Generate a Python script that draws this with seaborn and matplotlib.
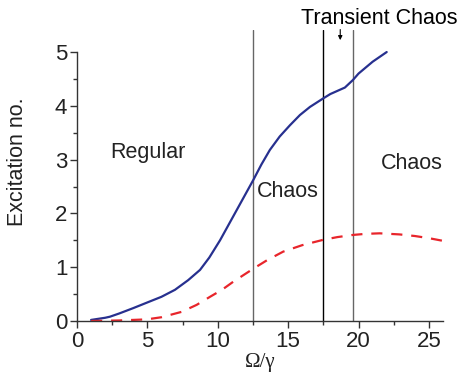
import numpy as np
import pandas as pd
import matplotlib
matplotlib.use("Agg")
import matplotlib.pyplot as plt
import seaborn as sns
from matplotlib.ticker import MultipleLocator

# Data
blue_x = [1, 2, 2.34, 3, 4, 4.95, 6, 6.96, 7.9, 8.74, 9.4, 10.16, 10.75, 11.34, 11.93, 12.52, 13.1, 13.7, 14.4, 15.13, 15.84, 16.55, 17.5, 18, 19.03, 19.6, 20, 21, 22]
blue_y = [0.02, 0.06, 0.08, 0.14, 0.24, 0.34, 0.45, 0.58, 0.76, 0.95, 1.18, 1.5, 1.78, 2.06, 2.34, 2.62, 2.91, 3.18, 3.43, 3.64, 3.83, 3.98, 4.14, 4.22, 4.34, 4.48, 4.6, 4.82, 5.0]
red_x = [1, 3, 4.95, 6, 7.43, 8.5, 9.45, 10.3, 11.1, 12.57, 13.5, 14.65, 16, 17.5, 18.5, 19.6, 20.5, 21.5, 22.9, 24, 25, 26]
red_y = [0.0, 0.01, 0.03, 0.07, 0.17, 0.3, 0.45, 0.58, 0.73, 0.98, 1.13, 1.29, 1.41, 1.51, 1.56, 1.6, 1.62, 1.63, 1.61, 1.58, 1.54, 1.49]
region_edges = [12.5, 17.5, 19.6]
edge_colors = ["#666666", "#000000", "#666666"]

sns.set_theme(style="ticks")
plt.rcParams['font.family'] = ['Liberation Sans', 'DejaVu Sans']

fig = plt.figure(figsize=(4.6, 3.77), dpi=100)
ax = fig.add_axes([77/460, 1-321/377, (443-77)/460, (321-30)/377])

sns.lineplot(x=blue_x, y=blue_y, ax=ax, color="#27308f", lw=1.6, sort=False)
sns.lineplot(x=red_x, y=red_y, ax=ax, color="#e8252b", lw=1.6, sort=False,
             linestyle=(0, (5, 4)))

for xv, c in zip(region_edges, edge_colors):
    ax.axvline(xv, color=c, lw=1.0, zorder=1)

ax.set_xlim(0, 26)
ax.set_ylim(0, 5.41)
ax.spines['top'].set_visible(False)
ax.spines['right'].set_visible(False)
ax.spines['left'].set_bounds(0, 5)
for s in ['left', 'bottom']:
    ax.spines[s].set_color('#333333')
    ax.spines[s].set_linewidth(1.0)

ax.set_xticks([0, 5, 10, 15, 20, 25])
ax.set_yticks([0, 1, 2, 3, 4, 5])
ax.xaxis.set_minor_locator(MultipleLocator(2.5))
ax.set_yticks([v for v in np.arange(0.5, 5.0, 1.0)], minor=True)
ax.tick_params(which='major', direction='out', length=5, width=1, colors='#333333',
               labelsize=16, labelcolor='#222222', pad=2)
ax.tick_params(which='minor', direction='out', length=3, width=1, colors='#333333')

ax.set_xlabel("Ω/γ", fontsize=15, family=['Liberation Serif', 'DejaVu Serif'], labelpad=1, color='#222222')
ax.set_ylabel("Excitation no.", fontsize=15.5, color='#222222')
ax.yaxis.set_label_coords(-0.134, 0.546)

ax.text(5.05, 3.14, "Regular", fontsize=15.5, ha='center', va='center', color='#222222')
ax.text(15.0, 2.4, "Chaos", fontsize=15.5, ha='center', va='center', color='#222222')
ax.text(23.8, 2.92, "Chaos", fontsize=15.5, ha='center', va='center', color='#222222')
ax.text(21.45, 5.63, "Transient Chaos", fontsize=15.5, ha='center', va='center', color='#000000', clip_on=False)
ax.annotate("", xy=(18.7, 5.17), xytext=(18.7, 5.47),
            arrowprops=dict(arrowstyle='-|>', color='black', lw=0.8, mutation_scale=6),
            annotation_clip=False)

fig.savefig("out.png", dpi=100)
